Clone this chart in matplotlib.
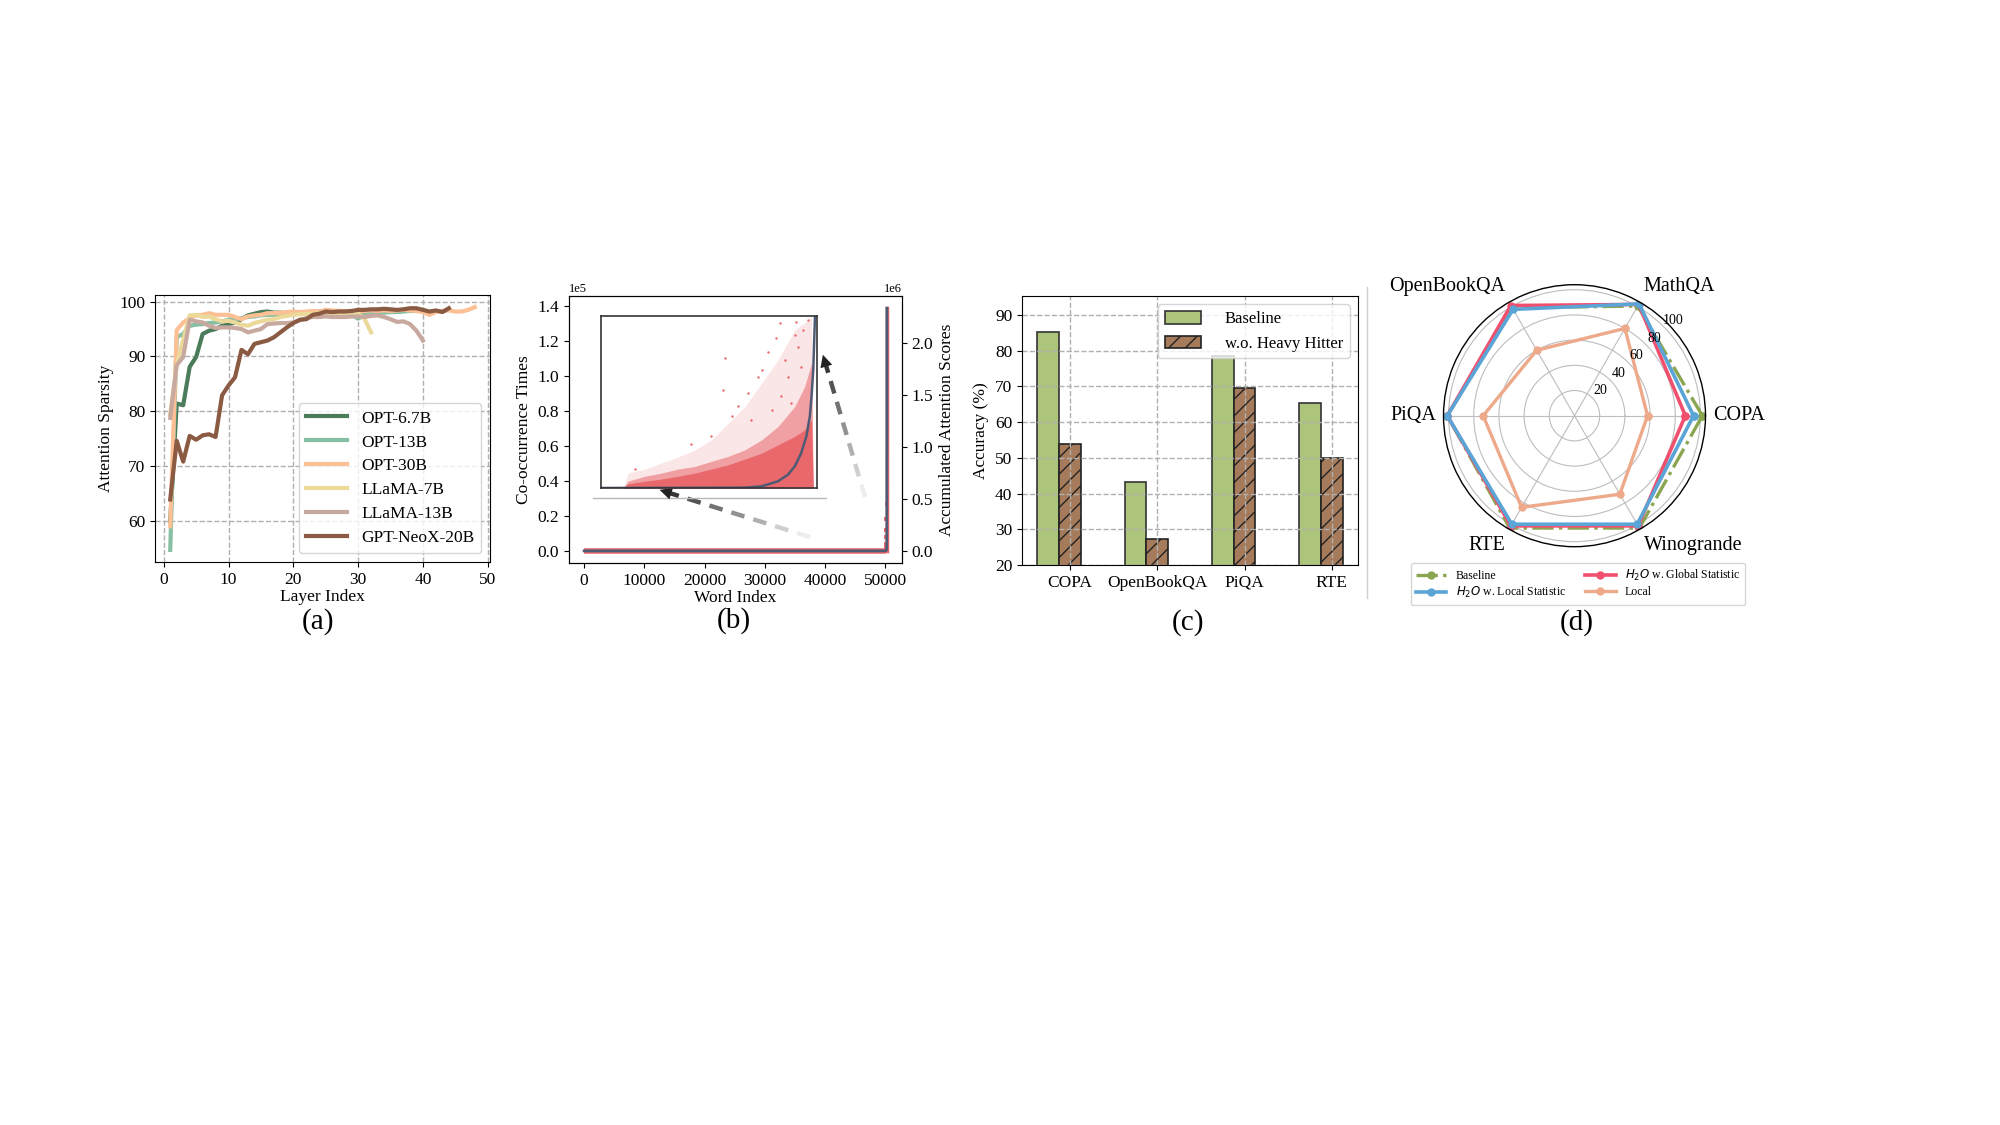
import matplotlib
matplotlib.use('Agg')
import matplotlib.pyplot as plt
import matplotlib.lines as mlines
import numpy as np

plt.rcParams['font.family'] = ['Liberation Serif', 'DejaVu Serif']
plt.rcParams['mathtext.fontset'] = 'dejavusans'
plt.rcParams['xtick.labelsize'] = 12.5
plt.rcParams['ytick.labelsize'] = 12.5
plt.rcParams['axes.labelsize'] = 12.5

# ---------------- (a) attention sparsity per layer
opt_6_7b = [60.0, 81.4, 81.1, 88.1, 89.9, 94.1, 94.7, 95.0, 95.6, 95.9, 96.2, 96.8, 97.5, 97.8, 98.1, 98.2,
            98.0, 98.0, 97.9, 98.0, 98.1, 98.0, 98.1, 98.2, 98.3, 98.2, 98.3, 98.2, 98.3, 98.1, 98.2, 98.0]
opt_13b = [54.7, 93.5, 94.1, 95.6, 95.8, 95.9, 96.1, 96.2, 96.4, 96.7, 96.8, 97.0, 97.2, 97.3, 97.5, 97.6,
           97.6, 97.7, 97.8, 97.8, 97.9, 97.9, 98.0, 97.9, 98.0, 98.0, 97.9, 97.9, 97.6, 96.9, 97.6, 97.9,
           98.0, 98.0, 98.1, 98.1, 98.2, 98.3, 98.3, 98.3]
opt_30b = [59.0, 94.8, 96.2, 97.0, 97.5, 97.6, 97.9, 97.6, 97.6, 97.6, 97.2, 96.8, 97.3, 97.5, 97.6, 97.9,
           97.9, 98.0, 98.1, 98.2, 98.1, 98.2, 98.3, 98.2, 98.5, 98.4, 98.3, 98.3, 98.2, 98.2, 98.3, 98.4,
           98.3, 98.4, 98.3, 98.4, 98.5, 98.4, 98.3, 98.1, 97.6, 98.1, 98.3, 98.4, 98.2, 98.2, 98.5, 99.0]
llama_7b = [79.5, 88.5, 93.0, 97.5, 97.6, 97.2, 97.3, 96.8, 96.4, 96.5, 96.2, 95.8, 95.6, 96.1, 96.4, 96.7,
            96.8, 97.2, 97.4, 97.6, 97.7, 97.8, 97.8, 97.9, 97.8, 97.9, 97.8, 97.9, 97.8, 97.9, 96.8, 94.4]
llama_13b = [78.8, 88.4, 89.9, 96.7, 96.4, 96.2, 95.6, 95.2, 95.3, 95.3, 95.2, 95.0, 94.4, 94.7, 95.0, 95.9,
             96.0, 96.1, 96.1, 96.2, 96.6, 97.0, 97.2, 97.2, 97.3, 97.2, 97.2, 97.2, 97.3, 97.3, 97.2, 97.4,
             97.5, 97.2, 96.8, 96.3, 96.4, 95.9, 94.7, 92.9]
neox_20b = [63.9, 74.6, 70.8, 75.5, 74.8, 75.6, 75.8, 75.3, 82.9, 84.7, 86.2, 91.2, 90.4, 92.3, 92.6, 92.9,
            93.5, 94.4, 95.3, 96.1, 96.7, 96.8, 97.6, 97.8, 98.2, 98.1, 98.2, 98.2, 98.3, 98.5, 98.5, 98.6,
            98.6, 98.7, 98.6, 98.5, 98.6, 98.8, 98.8, 98.5, 98.2, 98.4, 98.1, 98.8]
model_names = ['OPT-6.7B', 'OPT-13B', 'OPT-30B', 'LLaMA-7B', 'LLaMA-13B', 'GPT-NeoX-20B']
model_colors = ['#4a7c59', '#86bfa3', '#fdbf94', '#ebd99a', '#c8a99f', '#8b5a43']

# ---------------- (b) co-occurrence vs accumulated attention (sorted word index)
band_idx = [0, 50190]
band_cooc = [0, 0]
spike_idx = [50200, 50200, 50200, 50200, 50200, 50262]
spike_cooc = [1500, 4000, 8000, 12000, 18000, 27000]
top_idx = [50262, 50262]
top_cooc = [0, 139000]
acc_idx = [0, 50000, 50240, 50258, 50264, 50266]
acc_score = [0, 0, 1.0e4, 2.0e5, 1.2e6, 2.336e6]
cooc_ticks = [0, 20000, 40000, 60000, 80000, 100000, 120000, 140000]
acc_ticks = [0, 0.5e6, 1.0e6, 1.5e6, 2.0e6]

# zoomed inset (word index, co-occurrence in % of inset height)
ins_x = [5200, 6300, 10200, 14100, 17900, 21900, 25700, 29600, 33500, 37400, 41200, 45100, 47400, 49000, 49400]
ins_core = [0, 2.5, 3.9, 5.2, 6.8, 8.7, 11.0, 13.5, 16.8, 20.3, 25.1, 30.0, 33.8, 39.7, 0]
ins_mid = [0, 4.0, 6.8, 8.7, 11.0, 12.6, 15.5, 18.4, 22.2, 28.0, 35.8, 47.4, 59.0, 72.5, 0]
ins_sparse = [0, 8.7, 11.0, 14.5, 18.0, 22.2, 28.0, 37.7, 47.4, 60.9, 74.5, 91.9, 96.0, 99.6, 0]
out_x = [28800, 25700, 20900, 7900, 28400, 38900, 41600, 45400, 40800, 31900, 34200, 36500, 37400,
         42800, 45100, 45800, 47000, 48200, 35000, 30400, 43500, 46600, 42000, 44300, 39700]
out_y = [75.4, 30.0, 25.5, 11.0, 57.1, 79.3, 95.7, 96.7, 87.0, 47.4, 55.1, 64.8, 68.7,
         74.5, 89.0, 82.2, 91.9, 97.7, 39.7, 41.6, 64.8, 70.6, 53.2, 49.3, 45.5]
ins_curve_x = [0, 33500, 37400, 41200, 43500, 45100, 46600, 47800, 48600, 49000, 49400, 49600, 49800, 49900]
ins_curve_y = [0, 0.2, 1.0, 3.9, 7.7, 12.6, 20.3, 30.0, 41.6, 53.2, 68.7, 84.1, 99.6, 100]

# ---------------- (c) accuracy with / without heavy hitters
tasks_c = ['COPA', 'OpenBookQA', 'PiQA', 'RTE']
acc_baseline = [85.1, 43.2, 78.5, 65.3]
acc_no_hh = [54.0, 27.2, 69.5, 50.0]

# ---------------- (d) radar
tasks_d = ['COPA', 'MathQA', 'OpenBookQA', 'PiQA', 'RTE', 'Winogrande']
r_baseline = [101.5, 100.5, 99.0, 101.0, 103.0, 103.0]
r_global = [88.0, 102.0, 101.0, 101.0, 101.0, 101.0]
r_local_stat = [94.5, 102.5, 97.5, 101.0, 99.5, 99.5]
r_local = [58.0, 80.0, 60.0, 72.5, 84.0, 72.0]
r_ticks = [20, 40, 60, 80, 100]

W, H = 2000, 1125
fig = plt.figure(figsize=(20, 11.25), dpi=100)


def rect(l, t, r, b):
    return [l / W, 1 - b / H, (r - l) / W, (b - t) / H]


# ======== (a)
ax1 = fig.add_axes(rect(155, 295, 490, 562))
all_series = [opt_6_7b, opt_13b, opt_30b, llama_7b, llama_13b, neox_20b]
for vals, name, c in zip(all_series, model_names, model_colors):
    ax1.plot(np.arange(1, len(vals) + 1), vals, color=c, lw=3, label=name)
ax1.grid(True, ls='--', color='#b0b0b0', lw=1)
ax1.set_xticks([0, 10, 20, 30, 40, 50])
ax1.set_yticks([60, 70, 80, 90, 100])
ax1.set_xlabel('Layer Index', labelpad=1)
ax1.set_ylabel('Attention Sparsity')
ax1.legend(loc='lower right', fontsize=12.5, handlelength=2.4, handletextpad=0.8, labelspacing=0.45)

# ======== (b)
ax2 = fig.add_axes(rect(569, 296, 902, 563))
ax2.plot(band_idx, band_cooc, color='#e8686b', lw=4, solid_capstyle='butt')
ax2.plot(top_idx, top_cooc, color='#e8686b', lw=2.5)
ax2.scatter(spike_idx, spike_cooc, color='#e8686b', s=6, marker='s', lw=0)
ax2.set_yticks(cooc_ticks)
ax2.ticklabel_format(axis='y', style='sci', scilimits=(0, 0))
ax2.yaxis.get_offset_text().set_fontsize(9)
ax2.set_xticks([0, 10000, 20000, 30000, 40000, 50000])
ax2.set_xlabel('Word Index', labelpad=1)
ax2.set_ylabel('Co-occurrence Times')

ax2r = ax2.twinx()
ax2r.plot(acc_idx, acc_score, color='#4f5a75', lw=2)
ax2r.set_yticks(acc_ticks)
ax2r.ticklabel_format(axis='y', style='sci', scilimits=(0, 0))
ax2r.yaxis.get_offset_text().set_fontsize(9)
ax2r.set_ylabel('Accumulated Attention Scores')

# gradient dashed arrows (axes fraction)
arrows = [((0.724, 0.097), (0.264, 0.277)), ((0.889, 0.247), (0.760, 0.790))]
for (x0, y0), (x1, y1) in arrows:
    n = 7
    for k in range(n):
        f0 = k / n
        f1 = (k + 0.6) / n
        g = 0.93 - 0.72 * (k / (n - 1))
        ax2r.plot([x0 + (x1 - x0) * f0, x0 + (x1 - x0) * f1], [y0 + (y1 - y0) * f0, y0 + (y1 - y0) * f1],
                  color=(g, g, g), lw=3.2, transform=ax2r.transAxes, solid_capstyle='butt')
    ax2r.annotate('', xy=(x1, y1), xytext=(x0 + (x1 - x0) * 0.9, y0 + (y1 - y0) * 0.9),
                  xycoords='axes fraction', textcoords='axes fraction',
                  arrowprops=dict(arrowstyle='-|>', color='#222222', lw=0, mutation_scale=22))
ax2r.plot([0.072, 0.772], [0.243, 0.243], color='#b8b8b8', lw=1, transform=ax2r.transAxes)

axin = fig.add_axes(rect(601, 316, 817, 488))
axin.fill_between(ins_x, 0, ins_sparse, color='#e8686b', alpha=0.16, lw=0)
axin.fill_between(ins_x, 0, ins_mid, color='#e8686b', alpha=0.55, lw=0)
axin.fill_between(ins_x, 0, ins_core, color='#e8686b', alpha=1.0, lw=0)
axin.scatter(out_x, out_y, color='#e8686b', s=3, lw=0)
axin.plot(ins_curve_x, ins_curve_y, color='#4f5a75', lw=1.8)
axin.set_xlim(0, 50272)
axin.set_ylim(0, 100)
axin.set_xticks([])
axin.set_yticks([])
for sp in axin.spines.values():
    sp.set_color('#333333')
    sp.set_linewidth(1.2)

# ======== (c)
ax3 = fig.add_axes(rect(1022, 296, 1358, 565))
xc = np.arange(len(tasks_c))
ax3.bar(xc - 0.25, acc_baseline, 0.25, color='#adc47b', edgecolor='#333333', lw=1.2, label='Baseline')
ax3.bar(xc, acc_no_hh, 0.25, color='#a67b5b', edgecolor='#222222', lw=1.2, hatch='//', label='w.o. Heavy Hitter')
ax3.set_xticks(xc)
ax3.set_xticklabels(tasks_c)
ax3.set_ylim(20, 95.3)
ax3.set_yticks([20, 30, 40, 50, 60, 70, 80, 90])
ax3.grid(True, ls='--', color='#b0b0b0', lw=1)
ax3.set_ylabel('Accuracy (%)')
ax3.legend(loc='upper right', fontsize=12, handlelength=2.2, handleheight=0.8, handletextpad=1.4)

fig.add_artist(mlines.Line2D([1367 / W, 1367 / W], [1 - 598 / H, 1 - 287 / H], color='#d0d0d0', lw=1))

# ======== (d)
cx, cy, rad = 1574.5, 415.7, 131
ax4 = fig.add_axes(rect(cx - rad, cy - rad, cx + rad, cy + rad), polar=True)
ang = np.linspace(0, 2 * np.pi, len(tasks_d), endpoint=False)
ang_c = np.append(ang, ang[0])


def closed(v):
    return np.append(v, v[0])


ln_base, = ax4.plot(ang_c, closed(r_baseline), color='#8aa650', lw=2.4, ls='-.', marker='o', ms=5,
                    label='Baseline')
ln_glob, = ax4.plot(ang_c, closed(r_global), color='#f0506e', lw=2.6, marker='o', ms=5,
                    label='$H_2O$ w. Global Statistic')
ln_loc, = ax4.plot(ang_c, closed(r_local_stat), color='#5ba4d6', lw=2.6, marker='o', ms=5,
                   label='$H_2O$ w. Local Statistic')
ln_l, = ax4.plot(ang_c, closed(r_local), color='#eda98a', lw=2.4, marker='o', ms=5, label='Local')
ax4.set_ylim(0, 104)
ax4.set_yticks(r_ticks)
ax4.set_yticklabels([])
ax4.set_xticks(ang)
ax4.set_xticklabels([])
ax4.grid(True, color='#bdbdbd', lw=0.8)
ax4.spines['polar'].set_color('black')
ax4.spines['polar'].set_linewidth(1)
for r in r_ticks:
    ax4.text(np.deg2rad(44), r + 8.5, str(r), fontsize=10, ha='center', va='center')
align = [('left', 'center'), ('left', 'bottom'), ('right', 'bottom'),
         ('right', 'center'), ('right', 'top'), ('left', 'top')]
for a, name, (ha, va) in zip(ang, tasks_d, align):
    ax4.text(a, 110, name, fontsize=14.5, ha=ha, va=va)

fig.legend(handles=[ln_base, ln_loc, ln_glob, ln_l], ncol=2, loc='upper center',
           bbox_to_anchor=(1578 / W, 1 - 563 / H), fontsize=8.5, handlelength=2.6, columnspacing=1.6,
           labelspacing=0.3, borderpad=0.4, borderaxespad=0)

# panel labels
for lab, px, py in [('(a)', 318, 622), ('(b)', 734, 621), ('(c)', 1188, 623), ('(d)', 1577, 623)]:
    fig.text(px / W, 1 - py / H, lab, fontsize=21, ha='center', va='center')

fig.savefig('out.png', dpi=100)
